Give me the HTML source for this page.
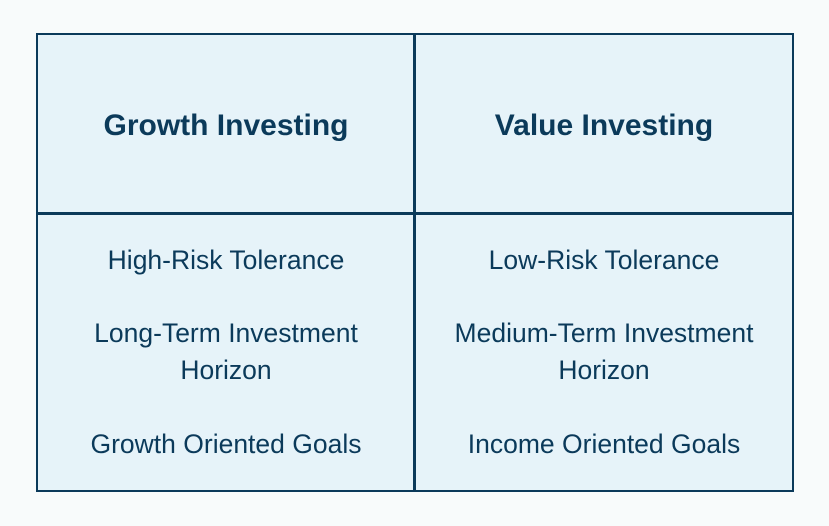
<!DOCTYPE html>
<html><head><meta charset="utf-8"><style>
body{margin:0;width:829px;height:526px;background:#f8fbfb;font-family:"Liberation Sans",sans-serif;color:#0b3a5a;position:relative;overflow:hidden}
.box{position:absolute;left:36px;top:33px;width:754px;height:455px;border:2.5px solid #0b3a5a;background:#e6f3f9}
.v{position:absolute;left:413px;top:33px;width:2.5px;height:458px;background:#0b3a5a}
.h{position:absolute;left:36px;top:212px;width:757px;height:2.5px;background:#0b3a5a}
.t{position:absolute;width:378px;text-align:center;white-space:nowrap}
.hd{font-weight:bold;font-size:30px;top:109px}
.b{font-size:26.5px;line-height:37px}
</style></head><body>
<div class="box"></div>
<div class="v"></div>
<div class="h"></div>
<div class="t hd" style="left:37px">Growth Investing</div>
<div class="t hd" style="left:415px">Value Investing</div>
<div class="t b" style="left:37px;top:242px">High-Risk Tolerance</div>
<div class="t b" style="left:37px;top:315px">Long-Term Investment<br>Horizon</div>
<div class="t b" style="left:37px;top:426px">Growth Oriented Goals</div>
<div class="t b" style="left:415px;top:242px">Low-Risk Tolerance</div>
<div class="t b" style="left:415px;top:315px">Medium-Term Investment<br>Horizon</div>
<div class="t b" style="left:415px;top:426px">Income Oriented Goals</div>
</body></html>
